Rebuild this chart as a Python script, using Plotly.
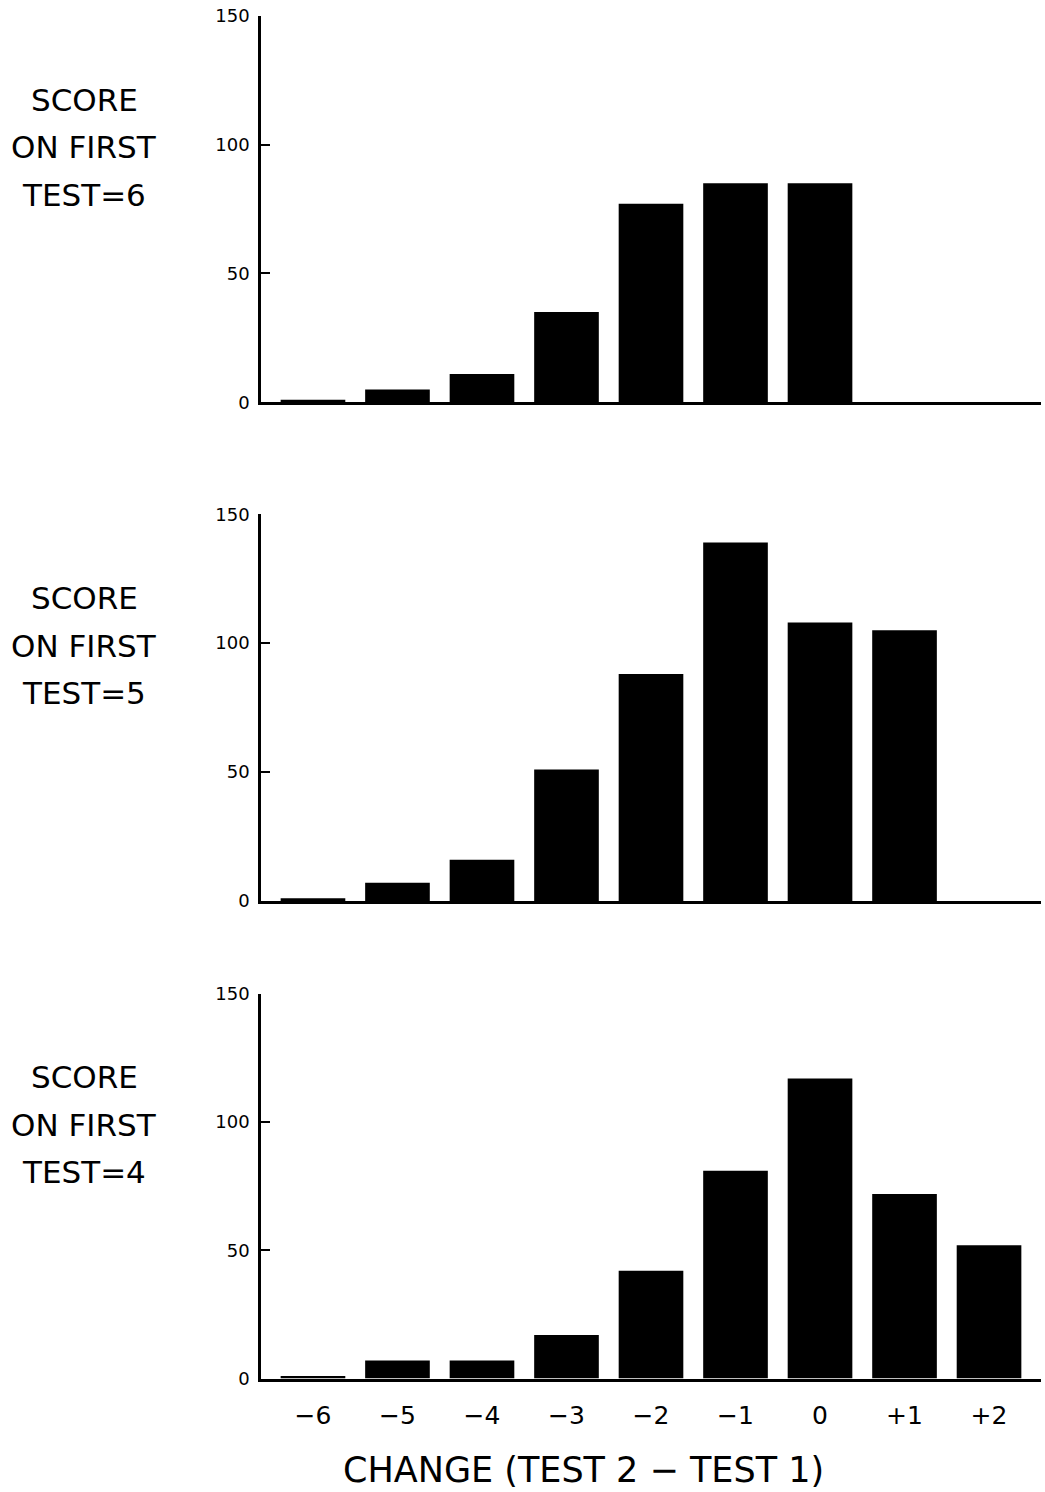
import plotly.graph_objects as go

categories = [-6, -5, -4, -3, -2, -1, 0, 1, 2]
tick_labels = ["−6", "−5", "−4", "−3", "−2", "−1", "0", "+1", "+2"]
score6 = [1, 5, 11, 35, 77, 85, 85, 0, 0]
score5 = [1, 7, 16, 51, 88, 139, 108, 105, 0]
score4 = [1, 7, 7, 17, 42, 81, 117, 72, 52]
panel_labels = [["SCORE", "ON FIRST", "TEST=6"],
                ["SCORE", "ON FIRST", "TEST=5"],
                ["SCORE", "ON FIRST", "TEST=4"]]
y_ticks = [0, 50, 100, 150]
x_title = "CHANGE (TEST 2 − TEST 1)"

W, H = 1045, 1492
FONT = "DejaVu Sans"

fig = go.Figure()
series = [score6, score5, score4]
# pixel positions of panels (top, bottom) in layout space
panels_px = [(4.7, 396.9), (510.4, 902.6), (996.9, 1387.1)]
x_dom = [261 / W, 1041 / W]

layout = dict(
    width=W, height=H,
    margin=dict(l=0, r=0, t=0, b=0),
    paper_bgcolor="white", plot_bgcolor="white",
    showlegend=False,
)

annotations = []
for i, (vals, (top, bot)) in enumerate(zip(series, panels_px)):
    n = i + 1
    xa = "x" if n == 1 else f"x{n}"
    ya = "y" if n == 1 else f"y{n}"
    fig.add_trace(go.Bar(x=categories, y=vals, marker=dict(color="black", line=dict(width=0)),
                         xaxis=xa, yaxis=ya, width=0.765))
    xkey = "xaxis" if n == 1 else f"xaxis{n}"
    ykey = "yaxis" if n == 1 else f"yaxis{n}"
    layout[xkey] = dict(
        domain=x_dom, anchor=ya, range=[-6.615, 2.615],
        showline=True, linecolor="black", linewidth=2.5,
        showgrid=False, zeroline=False, ticks="",
        tickmode="array", tickvals=categories, ticktext=tick_labels,
        showticklabels=(n == 3),
        tickfont=dict(family=FONT, size=25, color="black"),
        ticklabelstandoff=13,
    )
    layout[ykey] = dict(
        domain=[1 - bot / H, 1 - top / H], anchor=xa, range=[0, 150],
        showline=True, linecolor="black", linewidth=2.5,
        showgrid=False, zeroline=False,
        ticks="inside", ticklen=9, tickwidth=2, tickcolor="black",
        tickvals=y_ticks, ticktext=[str(v) for v in y_ticks],
        tickfont=dict(family=FONT, size=18, color="black"),
        ticklabelstandoff=5,
    )
    for j, (txt, yy) in enumerate(zip(panel_labels[i], [0.783, 0.66, 0.537])):
        annotations.append(dict(
            text=txt, x=84 / W, xref="paper", y=yy, yref=f"{ya} domain",
            showarrow=False, xanchor="center", yanchor="middle",
            font=dict(family=FONT, size=31, color="black"),
        ))

annotations.append(dict(
    text=x_title, x=583 / W, xref="paper", y=1 - 1480 / H, yref="paper",
    showarrow=False, xanchor="center", yanchor="middle",
    font=dict(family=FONT, size=35, color="black"),
))
layout["annotations"] = annotations
fig.update_layout(**layout)
fig.write_html(
    "out.html",
    config={"displayModeBar": False},
    post_script=(
        "document.body.style.margin='0';document.body.style.overflow='hidden';"
        "var gd=document.getElementById('{plot_id}');"
        "gd.style.position='fixed';gd.style.top='0px';gd.style.left='0px';"
    ),
)
